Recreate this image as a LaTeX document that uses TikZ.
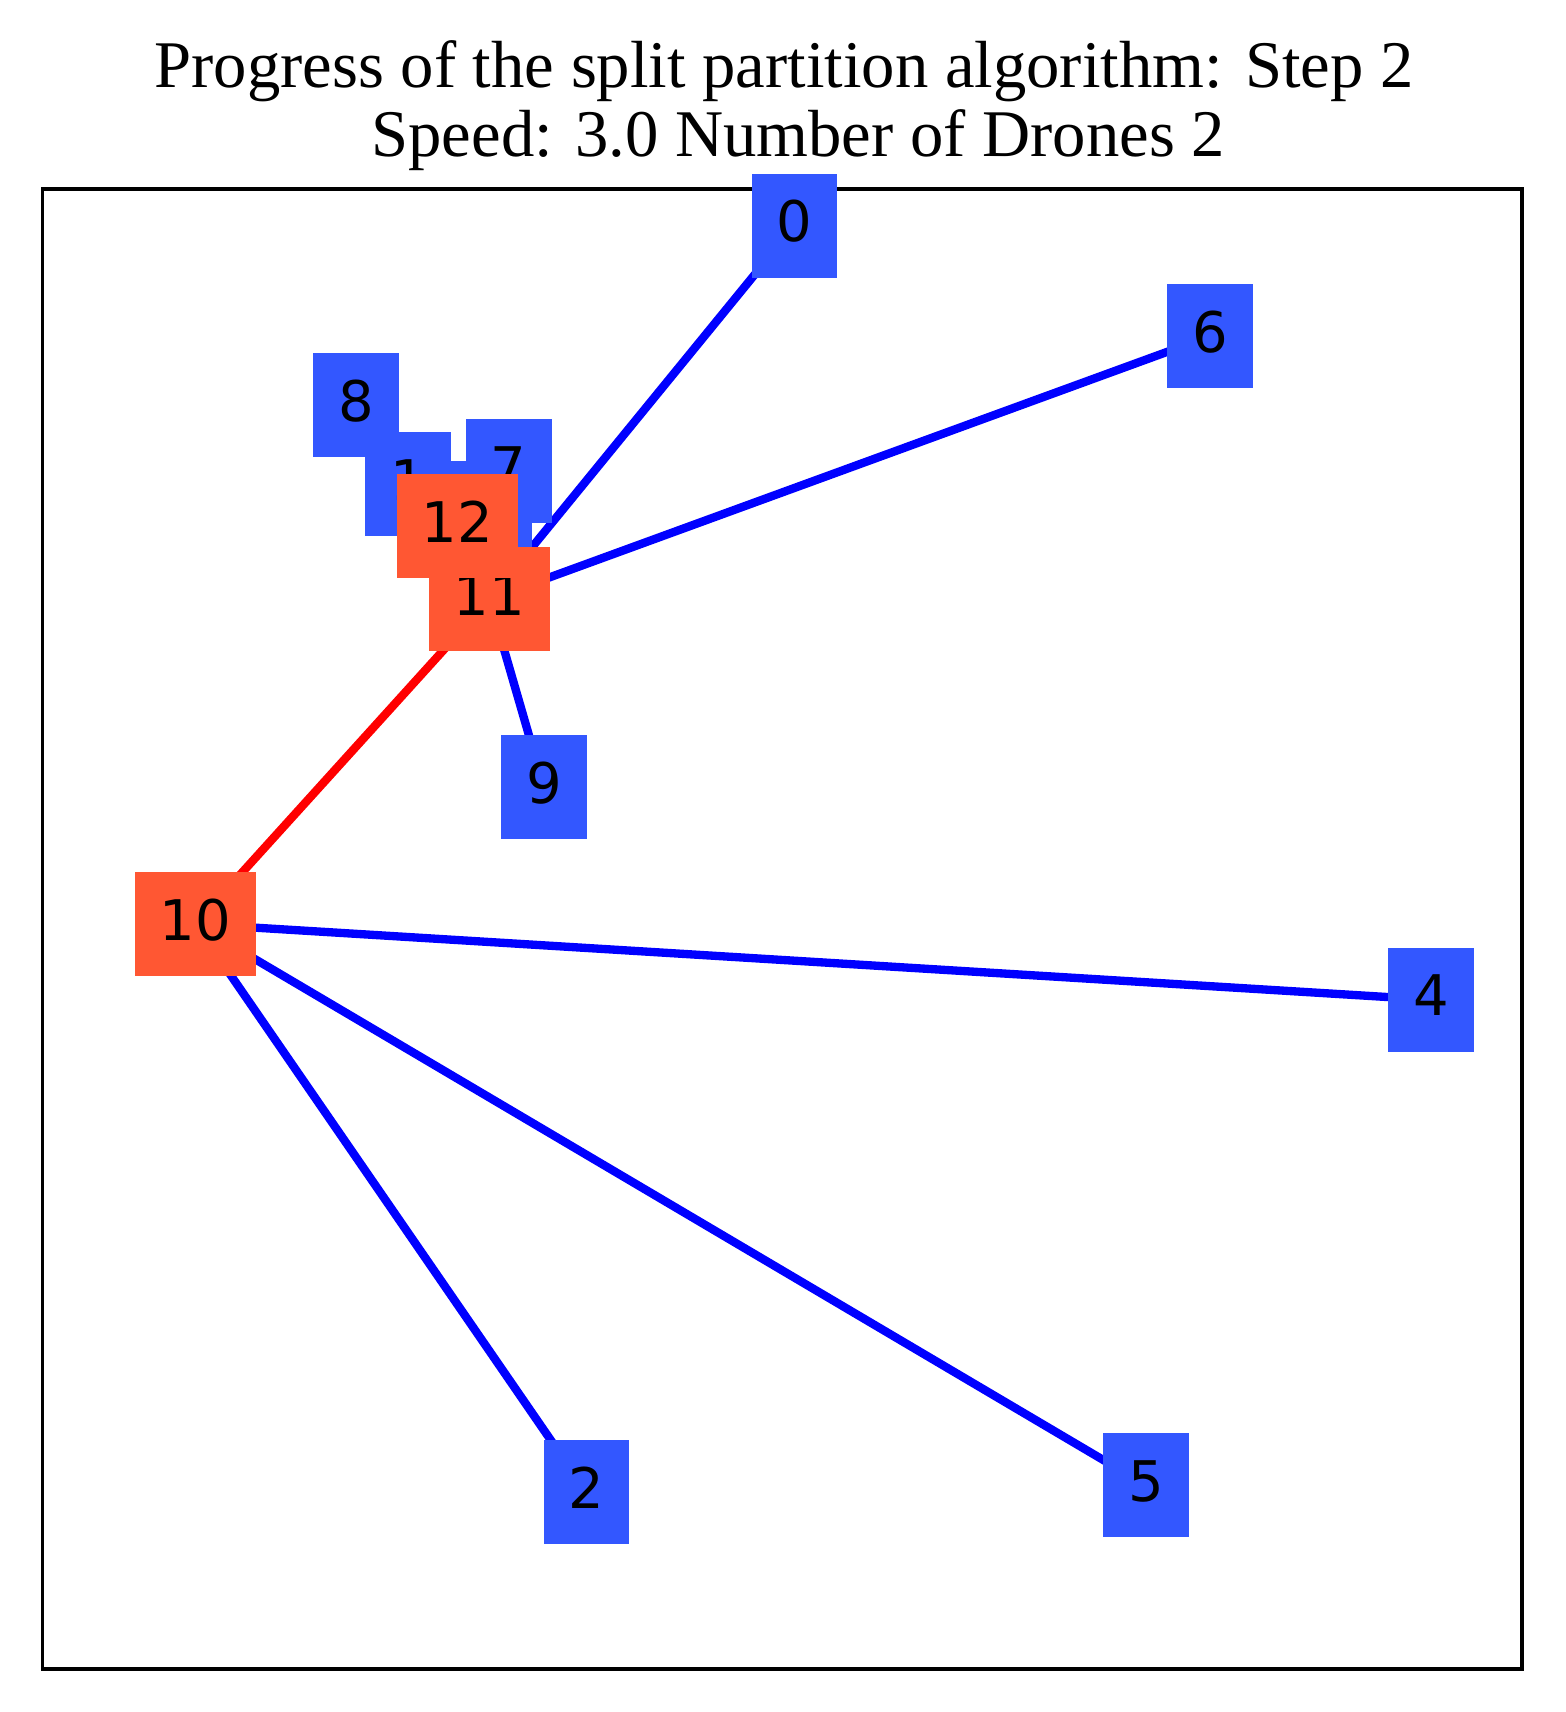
\documentclass[tikz,border=0pt]{standalone}
\usepackage{fontspec}
\setmainfont{Liberation Serif}
\newfontfamily\labelfont{DejaVu Sans}
\definecolor{nodeblue}{HTML}{3357FF}
\definecolor{depotred}{HTML}{FF5733}
\pgfdeclarelayer{bg}
\pgfsetlayers{bg,main}
\tikzset{
  custbox/.style={fill=nodeblue, inner sep=0pt, minimum width=20.52pt,
    minimum height=24.96pt, text height=7.7pt, text depth=0pt,
    font=\labelfont\fontsize{13.44}{16}\selectfont, text=black},
  depotbox/.style={custbox, fill=depotred, minimum width=29.04pt},
  route/.style={line width=2pt, draw=blue},
  droneroute/.style={line width=2pt, draw=red},
  frame/.style={line width=0.8pt, draw=black},
  titletext/.style={anchor=base, inner sep=0pt, font=\fontsize{16}{19}\selectfont},
}
\begin{document}
\begin{tikzpicture}[x=0.24pt, y=-0.24pt]
\useasboundingbox (0,0) rectangle (1565,1712);
% title
\node[titletext] (t1) at (784,87.3) {Progress of the split partition algorithm: Step 2};
\node[titletext] (t2) at (798.3,156.7) {Speed: 3.0 Number of Drones 2};
% axes frame
\draw[frame] (42.5,189) rectangle (1522,1669);
% nodes
\node[custbox] (n0) at (794.5,225.8) {0};
\node[custbox] (n1) at (408,484.5) {1};
\node[custbox] (n2) at (586.7,1492.3) {2};
\node[custbox] (n3) at (489.3,513) {3};
\node[custbox] (n4) at (1431,999.7) {4};
\node[custbox] (n5) at (1146,1485.2) {5};
\node[custbox] (n6) at (1209.8,336.3) {6};
\node[custbox] (n7) at (508.8,471) {7};
\node[custbox] (n8) at (356,405) {8};
\node[custbox] (n9) at (544,787.2) {9};
\node[depotbox] (n10) at (195.5,924) {10};
\node[depotbox] (n11) at (489.5,599.3) {11};
\node[depotbox] (n12) at (457.5,526.3) {12};
% connectors, under the boxes
\begin{pgfonlayer}{bg}
\draw[route] (n0.center) -- (n11.center);
\draw[route] (n6.center) -- (n11.center);
\draw[route] (n11.center) -- (n9.center);
\draw[droneroute] (n11.center) -- (n10.center);
\draw[route] (n10.center) -- (n4.center);
\draw[route] (n10.center) -- (n2.center);
\draw[route] (n10.center) -- (n5.center);
\end{pgfonlayer}
\end{tikzpicture}
\end{document}
